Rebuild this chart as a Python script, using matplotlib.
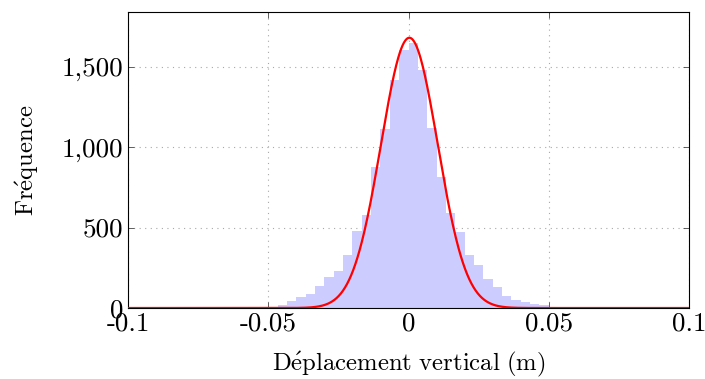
import numpy as np
import matplotlib
matplotlib.use("Agg")
import matplotlib.pyplot as plt

# ------------------------------------------------------------
# data
# ------------------------------------------------------------
bin_lo = -0.05
bin_hi = 0.05
n_bins = 30
counts = [8, 20, 42, 67, 86, 135, 190, 230, 330, 480, 578, 877, 1112, 1420, 1606,
          1650, 1482, 1120, 815, 592, 474, 329, 267, 178, 132, 76, 50, 38, 27, 20]

# fitted normal curve
fit_mu = 0.0003
fit_sigma = 0.0101
fit_peak = 1680

xticks = [-0.1, -0.05, 0, 0.05, 0.1]
xtick_labels = ["-0.1", "-0.05", "0", "0.05", "0.1"]
yticks = [0, 500, 1000, 1500]
ytick_labels = ["0", "500", "1,000", "1,500"]

plt.rcParams["mathtext.fontset"] = "cm"
plt.rcParams["font.family"] = ["cmr10", "DejaVu Serif"]

fig = plt.figure(figsize=(7.05, 3.79), dpi=100)
ax = fig.add_axes([0.1816, 0.1873, 0.9773 - 0.1816, 0.9683 - 0.1873])

edges = np.linspace(bin_lo, bin_hi, n_bins + 1)
ax.bar(edges[:-1], counts, width=np.diff(edges), align="edge",
       color="#ccccff", linewidth=0, zorder=2)

xs = np.linspace(-0.1, 0.1, 800)
ys = fit_peak * np.exp(-(xs - fit_mu) ** 2 / (2 * fit_sigma ** 2))
ax.plot(xs, ys, color="red", lw=1.6, zorder=3)

ax.set_xlim(-0.1, 0.1)
ax.set_ylim(0, 1840)
ax.set_xticks(xticks)
ax.set_xticklabels(xtick_labels)
ax.set_yticks(yticks)
ax.set_yticklabels(ytick_labels)
ax.tick_params(direction="in", length=4, width=0.6, labelsize=19.5,
               top=True, right=True, color="#444444")
ax.tick_params(axis="x", pad=3)
ax.grid(True, linestyle=(0, (1, 4)), color="#a8a8a8", lw=0.8, zorder=1)
for s in ax.spines.values():
    s.set_linewidth(0.8)

ax.set_xlabel(r"$\mathrm{D\acute{e}placement\ vertical\ (m)}$", fontsize=17.8, labelpad=10)
ax.set_ylabel(r"$\mathrm{Fr\acute{e}quence}$", fontsize=17.8, labelpad=15)

fig.savefig("out.png", dpi=100)
